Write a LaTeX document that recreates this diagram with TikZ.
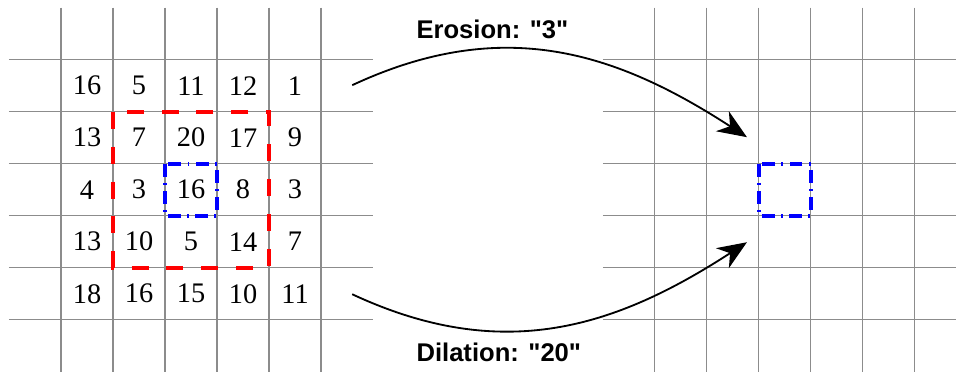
\documentclass[tikz,border=0pt]{standalone}
\usepackage{fontspec}
\setmainfont{Liberation Serif}
\setsansfont{Liberation Sans}
\usetikzlibrary{arrows.meta}

\begin{document}
\begin{tikzpicture}[
  gridline/.style={draw=black!45,line width=0.6pt},
  num/.style={font=\fontsize{15.5}{18}\selectfont,inner sep=0pt},
  opname/.style={font=\sffamily\bfseries\fontsize{14}{16}\selectfont,anchor=base west,inner sep=0pt},
  redwin/.style={draw=red,line width=2.2pt,dash pattern=on 9.3pt off 9.8pt},
  bluewin/.style={draw=blue,line width=2.2pt,dash pattern=on 7pt off 3.5pt on 1pt off 3.5pt},
  arrow/.style={-{Stealth[length=16pt,width=13pt,inset=5pt]},line width=1pt}
]
  \useasboundingbox (-1.173,-5.987) rectangle (17.21,1.148);
  \foreach \gx in {0,11.42}{
    \foreach \i in {0,...,5}{
      \draw[gridline] (\gx+\i,1) -- (\gx+\i,-6);
      \draw[gridline] (\gx-1,-\i) -- (\gx+6,-\i);
    }
  }
  \foreach [count=\r from 0] \row in {{16,5,11,12,1},{13,7,20,17,9},{4,3,16,8,3},{13,10,5,14,7},{18,16,15,10,11}}{
    \foreach [count=\c from 0] \v in \row {
      \node[num] (n-\r-\c) at (\c+0.5,-\r-0.5) {\v};
    }
  }
  \draw[redwin] (1,-1) rectangle (4,-4);
  \draw[bluewin] (2,-2) rectangle (3,-3);
  \draw[bluewin] (13.42,-2) rectangle (14.42,-3);
  \coordinate (erofrom) at (5.6,-0.49);
  \coordinate (eroto) at (13.19,-1.49);
  \coordinate (dilfrom) at (5.6,-4.51);
  \coordinate (dilto) at (13.19,-3.51);
  \draw[arrow] (erofrom) .. controls (8.5,0.862) and (10.67,0.145) .. (eroto);
  \draw[arrow] (dilfrom) .. controls (8.5,-5.862) and (10.67,-5.145) .. (dilto);
  \node[opname] (erolabel) at (6.83,0.4) {Erosion: \textquotedbl3\textquotedbl};
  \node[opname] (dillabel) at (6.83,-5.81) {Dilation: \textquotedbl20\textquotedbl};
\end{tikzpicture}
\end{document}
